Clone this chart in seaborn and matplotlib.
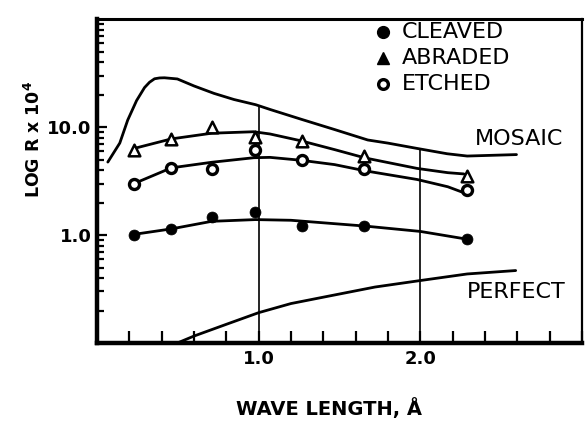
import matplotlib
matplotlib.use("Agg")
import matplotlib.pyplot as plt
from matplotlib.ticker import FixedLocator, MultipleLocator, LogLocator, NullFormatter
import pandas as pd
import seaborn as sns

# Measured reflectivity (R x 10^4) at the test wavelengths (Angstrom)
wavelength = [0.23, 0.46, 0.71, 0.98, 1.27, 1.65, 2.29]
cleaved = [1.01, 1.14, 1.46, 1.64, 1.21, 1.21, 0.92]
abraded = [6.07, 7.77, 10.0, 8.13, 7.39, 5.39, 3.52]
etched = [3.00, 4.19, 4.07, 6.17, 4.93, 4.10, 2.61]

# Hand-drawn trend curves through each specimen set
cleaved_curve_wl = [0.22, 0.46, 0.71, 0.98, 1.20, 1.66, 2.00, 2.28]
cleaved_curve = [1.01, 1.14, 1.34, 1.39, 1.37, 1.21, 1.08, 0.92]
abraded_curve_wl = [0.23, 0.46, 0.71, 0.97, 1.07, 1.26, 1.47, 1.66, 1.98, 2.17, 2.27]
abraded_curve = [6.34, 7.77, 8.77, 9.05, 8.63, 7.47, 6.18, 5.17, 4.14, 3.78, 3.68]
etched_curve_wl = [0.23, 0.46, 0.71, 0.97, 1.07, 1.26, 1.47, 1.66, 1.98, 2.17, 2.29]
etched_curve = [3.00, 4.19, 4.72, 5.20, 5.24, 4.93, 4.49, 3.93, 3.27, 2.80, 2.40]

# Theoretical curves: mosaic and perfect crystal
mosaic_wl = [0.067, 0.141, 0.19, 0.245, 0.294, 0.325, 0.356, 0.387, 0.417, 0.497, 0.601,
             0.724, 0.847, 0.982, 1.074, 1.264, 1.472, 1.675, 1.80, 1.98, 2.166, 2.29, 2.595]
mosaic = [4.74, 7.11, 11.6, 17.6, 23.2, 26.0, 28.0, 28.5, 28.6, 27.9, 24.0,
          20.5, 18.0, 16.1, 14.5, 11.8, 9.46, 7.59, 7.10, 6.34, 5.66, 5.39, 5.56]
perfect_wl = [0.49, 0.60, 0.80, 1.00, 1.20, 1.39, 1.72, 2.00, 2.29, 2.59]
perfect = [0.099, 0.116, 0.149, 0.191, 0.232, 0.264, 0.330, 0.379, 0.436, 0.469]

# Reference wavelengths with drop lines up to the mosaic curve
guide_wl = [1.0, 2.0]
guide_top = [16.1, 6.34]

legend_labels = ["CLEAVED", "ABRADED", "ETCHED"]
x_tick_values = [1.0, 2.0]
x_tick_labels = ["1.0", "2.0"]
y_tick_values = [1.0, 10.0]
y_tick_labels = ["1.0", "10.0"]

sns.set_style("white")
plt.rcParams["font.family"] = ["DejaVu Sans"]
plt.rcParams["text.color"] = "black"
plt.rcParams["axes.labelcolor"] = "black"
plt.rcParams["xtick.color"] = "black"
plt.rcParams["ytick.color"] = "black"
plt.rcParams["mathtext.fontset"] = "custom"
plt.rcParams["mathtext.rm"] = "DejaVu Sans:bold"
plt.rcParams["mathtext.bf"] = "DejaVu Sans:bold"

fig = plt.figure(figsize=(5.85, 4.24), dpi=100)
fig.patch.set_facecolor("white")
ax = fig.add_axes([0.1658, 0.191, 0.829, 0.764])
ax.set_facecolor("white")
ax.set_yscale("log")

line_kw = dict(color="black", linewidth=2.0, sort=False, estimator=None, legend=False)
for wl, vals in [(mosaic_wl, mosaic), (perfect_wl, perfect),
                 (abraded_curve_wl, abraded_curve), (etched_curve_wl, etched_curve),
                 (cleaved_curve_wl, cleaved_curve)]:
    sns.lineplot(data=pd.DataFrame({"wl": wl, "r": vals}), x="wl", y="r", ax=ax, **line_kw)

ax.vlines(guide_wl, 0.1, guide_top, colors="black", linewidth=1.2, zorder=2)

pts = pd.DataFrame({"wl": wavelength, "cleaved": cleaved, "abraded": abraded, "etched": etched})
sns.scatterplot(data=pts, x="wl", y="cleaved", ax=ax, marker="o", s=62,
                color="black", edgecolor="black", linewidth=0.5, zorder=4, legend=False)
sns.scatterplot(data=pts, x="wl", y="abraded", ax=ax, marker="^", s=70,
                color="white", edgecolor="black", linewidth=1.8, zorder=4, legend=False)
sns.scatterplot(data=pts, x="wl", y="etched", ax=ax, marker="o", s=52,
                color="white", edgecolor="black", linewidth=2.4, zorder=4, legend=False)

ax.set_xlim(0, 3.0)
ax.set_ylim(0.1, 100)

# Ticks pointing into the plot
ax.xaxis.set_major_locator(FixedLocator(x_tick_values))
ax.set_xticklabels(x_tick_labels)
ax.xaxis.set_minor_locator(MultipleLocator(0.2))
ax.yaxis.set_major_locator(FixedLocator(y_tick_values))
ax.set_yticklabels(y_tick_labels)
ax.yaxis.set_minor_locator(LogLocator(base=10, subs=range(2, 10)))
ax.yaxis.set_minor_formatter(NullFormatter())
ax.tick_params(axis="x", which="both", direction="in", length=9, width=1.6,
               bottom=True, top=False, pad=5, labelsize=13, labelcolor="black")
ax.tick_params(axis="y", which="major", direction="in", length=7, width=1.6,
               left=True, right=False, pad=4, labelsize=13, labelcolor="black")
ax.tick_params(axis="y", which="minor", direction="in", length=5, width=1.6,
               left=True, right=False)
for lab in ax.get_xticklabels() + ax.get_yticklabels():
    lab.set_fontweight("bold")

for side, w in [("left", 3.2), ("bottom", 3.2), ("top", 2.2), ("right", 1.6)]:
    ax.spines[side].set_visible(True)
    ax.spines[side].set_color("black")
    ax.spines[side].set_linewidth(w)

ax.set_xlabel("WAVE LENGTH, Å", fontsize=14, fontweight="bold", va="baseline", color="black")
ax.xaxis.set_label_coords(0.478, -0.222)
ax.set_ylabel(r"LOG R x 10$^{\mathbf{4}}$", fontsize=12.5, fontweight="bold",
              va="baseline", color="black")
ax.yaxis.set_label_coords(-0.1175, 0.63)

# Curve names
ax.text(2.337, 7.74, "MOSAIC", fontsize=16, ha="left", va="center", color="black")
ax.text(2.288, 0.294, "PERFECT", fontsize=16, ha="left", va="center", color="black")

# Key for the specimen symbols
key_y = [0.960, 0.880, 0.799]
key_styles = [dict(marker="o", markersize=8.5, markerfacecolor="black", markeredgecolor="black"),
              dict(marker="^", markersize=9, markerfacecolor="black", markeredgecolor="black"),
              dict(marker="o", markersize=7, markerfacecolor="white", markeredgecolor="black",
                   markeredgewidth=2.4)]
for label, y, style in zip(legend_labels, key_y, key_styles):
    ax.plot([0.590], [y], transform=ax.transAxes, linestyle="none", clip_on=False, **style)
    ax.text(0.629, y, label, transform=ax.transAxes, fontsize=16, ha="left", va="center",
            color="black")

fig.savefig("out.png", dpi=100, facecolor="white")
